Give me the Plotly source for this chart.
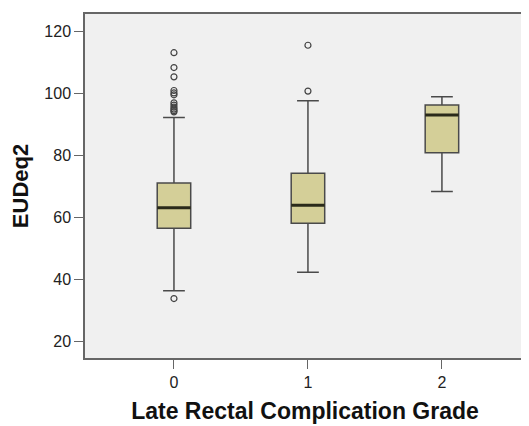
import plotly.graph_objects as go

categories = [0, 1, 2]
q1 = [56.5, 58.1, 80.9]
median = [63.1, 63.9, 93.1]
q3 = [71.1, 74.3, 96.3]
lower_whisker = [36.3, 42.3, 68.4]
upper_whisker = [92.3, 97.7, 99.0]
outliers = {
    0: [33.8, 94.1, 94.5, 95.0, 95.6, 96.3, 97.0, 99.6, 100.2, 101.0, 105.4, 108.4, 113.2],
    1: [100.8, 115.6],
    2: [],
}
tick_vals = [20, 40, 60, 80, 100, 120]

box_fill = "#D4CF98"
edge = "#4a4a4a"
font_family = "Liberation Sans, Arial, sans-serif"
bw = 0.25

fig = go.Figure()
for i, c in enumerate(categories):
    fig.add_trace(go.Box(
        x=[c], q1=[q1[i]], median=[median[i]], q3=[q3[i]],
        lowerfence=[lower_whisker[i]], upperfence=[upper_whisker[i]],
        width=bw, whiskerwidth=0.65, fillcolor=box_fill,
        line=dict(color=edge, width=1.5), boxpoints=False, showlegend=False,
        hoverinfo="skip",
    ))
    # thick median line
    fig.add_trace(go.Scatter(
        x=[c - bw / 2, c + bw / 2], y=[median[i], median[i]], mode="lines",
        line=dict(color="#2a2a1a", width=3), showlegend=False, hoverinfo="skip",
    ))
    if outliers[c]:
        fig.add_trace(go.Scatter(
            x=[c] * len(outliers[c]), y=outliers[c], mode="markers",
            marker=dict(symbol="circle-open", size=6, color="#444444", line=dict(width=1.2)),
            showlegend=False, hoverinfo="skip",
        ))

fig.update_layout(
    width=529, height=426,
    margin=dict(l=77, r=12, t=4, b=76),
    paper_bgcolor="white", plot_bgcolor="#F0F0F0",
    font=dict(family=font_family, color="#222222", size=16),
)
fig.update_xaxes(
    range=[-0.664, 2.62], tickvals=categories, ticktext=[str(c) for c in categories],
    ticks="outside", ticklen=9, tickcolor="#666666", showgrid=False, zeroline=False,
    showline=True, linecolor="#666666", linewidth=1.5, mirror=True,
    title=dict(text="<b>Late Rectal Complication Grade</b>", font=dict(size=23, color="#111111"), standoff=13),
    tickfont=dict(size=16, color="#222222"),
)
fig.update_yaxes(
    range=[14.6, 125.7], tickvals=tick_vals,
    ticks="outside", ticklen=9, tickcolor="#666666", showgrid=False, zeroline=False,
    showline=True, linecolor="#666666", linewidth=1.5, mirror=True,
    title=dict(text="<b>EUDeq2</b>", font=dict(size=22, color="#111111"), standoff=10),
    tickfont=dict(size=16, color="#222222"),
)

fig.write_html("out.html")
